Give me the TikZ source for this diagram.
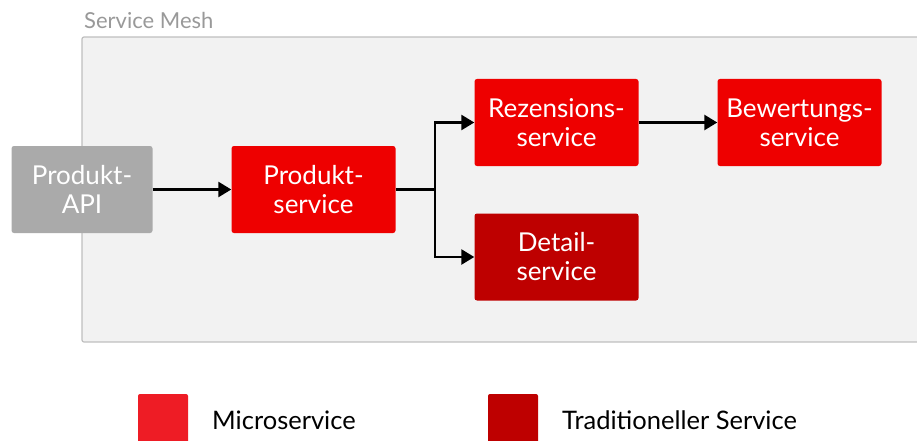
\documentclass[tikz,border=0pt]{standalone}
\usepackage{fontspec}
\setmainfont{Lato}
\usepackage{tikz}
\usetikzlibrary{arrows.meta,positioning,backgrounds}
\definecolor{meshgray}{HTML}{F2F2F2}
\definecolor{meshline}{HTML}{BFBFBF}
\definecolor{labelgray}{HTML}{999999}
\definecolor{apigray}{HTML}{AAAAAA}
\definecolor{microred}{HTML}{EE0000}
\definecolor{legendred}{HTML}{EE1C25}
\definecolor{tradred}{HTML}{BE0000}

\begin{document}
\begin{tikzpicture}[x=1pt,y=-1pt,
  svc/.style={rectangle, rounded corners=2.5pt, text=white, align=center,
    minimum width=164pt, minimum height=87pt, inner sep=0pt,
    font=\fontsize{26}{29}\selectfont},
  flow/.style={line width=2.6pt, -{Triangle[length=13pt,width=15pt]}},
  legendtext/.style={anchor=west, inner sep=0pt, font=\fontsize{25.5}{28}\selectfont}]
\useasboundingbox (0,0) rectangle (917,441);
\draw[meshline, fill=meshgray, line width=1.2pt, rounded corners=2pt] (82,37) rectangle (940,342);
\node[anchor=west, inner sep=0pt, text=labelgray, font=\fontsize{22}{24}\selectfont] (meshlabel) at (84,20) {Service Mesh};

\node[svc, fill=apigray, minimum width=141pt] (api) at (82,189.5) {Produkt-\\API};
\node[svc, fill=microred] (prod) at (313.5,189.5) {Produkt-\\service};
\node[svc, fill=microred] (rez) at (556.5,122.5) {Rezensions-\\service};
\node[svc, fill=microred] (bew) at (799.5,122.5) {Bewertungs-\\service};
\node[svc, fill=tradred] (det) at (556.5,257) {Detail-\\service};
\coordinate (fork) at (435,189.5);

\draw[flow] (api) -- (prod);
\draw[line width=2.6pt] (prod.east) -- (fork);
\draw[flow] (fork) |- (rez.west);
\draw[flow] (fork) |- (det.west);
\draw[flow] (rez) -- (bew);

\fill[legendred, rounded corners=2pt] (138,394) rectangle (188,460);
\node[legendtext] (lmicro) at (212,420) {Microservice};
\fill[tradred, rounded corners=2pt] (488,394) rectangle (538,460);
\node[legendtext] (ltrad) at (562,420) {Traditioneller Service};
\end{tikzpicture}
\end{document}
